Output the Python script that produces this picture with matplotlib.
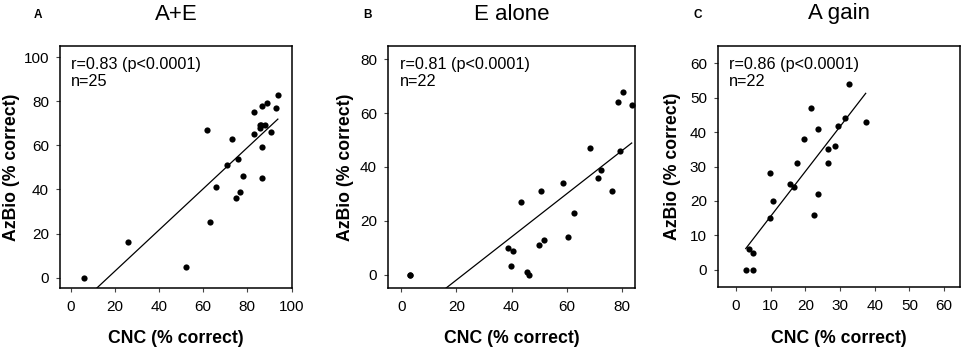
import numpy as np
import matplotlib
matplotlib.use('Agg')
from matplotlib import pyplot as plt

plt.rcParams['font.family'] = ['Liberation Sans', 'DejaVu Sans']

# =================== Datos (CNC, AzBio) por panel
ae_cnc = [6.2, 26.1, 52, 61.8, 62.9, 65.9, 70.9, 72.9, 75, 75.9, 76.8, 77.8, 82.8, 82.8,
          86.7, 85.8, 85.8, 86.2, 87.9, 86.7, 86.7, 88.8, 90.9, 92.8, 93.8]
ae_azbio = [0, 16.1, 5, 67, 25, 40.9, 51, 63, 36, 54, 39, 46, 75, 65,
            78, 69, 68, 69, 69, 59, 45, 79, 66, 77, 83]

e_cnc = [3.0, 3.0, 38.8, 39.8, 40.7, 43.6, 45.6, 46.5, 49.8, 50.7, 51.8, 58.7, 60.6, 62.7,
         68.6, 71.5, 72.6, 76.6, 78.5, 79.5, 80.5, 83.6]
e_azbio = [0, 0, 9.9, 3, 8.9, 27, 1, 0, 10.9, 31, 13, 33.9, 13.9, 23,
           47, 36, 39, 31, 64, 46, 68, 63]

a_cnc = [2.8, 4.8, 3.6, 4.8, 9.7, 9.7, 10.7, 15.7, 16.7, 17.7, 19.6, 21.7, 22.6, 23.6,
         23.6, 26.6, 26.6, 28.6, 29.5, 31.4, 32.5, 37.4]
a_azbio = [0, 0, 5.9, 5, 15, 28, 20, 25, 24, 31, 38, 47, 15.9, 21.9,
           41, 35, 31, 35.9, 41.9, 44, 54, 43]

titulos = ['A+E', 'E alone', 'A gain']
letras = ['A', 'B', 'C']
textos = ['r=0.83 (p<0.0001)\nn=25', 'r=0.81 (p<0.0001)\nn=22', 'r=0.86 (p<0.0001)\nn=22']
xlims = [(-4.8, 100.2), (-4.8, 84.8), (-5.2, 64.6)]
ylims = [(-4.7, 105), (-5, 85), (-5, 65)]
xticks = [range(0, 101, 20), range(0, 81, 20), range(0, 61, 10)]
yticks = [range(0, 101, 20), range(0, 81, 20), range(0, 61, 10)]

# posiciones de los ejes en pixeles (left, right, top, bottom)
cajas = [(60, 292, 46, 288), (388, 635, 46, 288), (718, 960, 46, 287)]
letra_x = [38, 368, 698]
ylabel_x = [20, 354, 681]   # borde derecho del ylabel en pixeles

W, H = 964, 351
fig = plt.figure(figsize=(W / 100, H / 100), dpi=100)

datos = [(ae_cnc, ae_azbio), (e_cnc, e_azbio), (a_cnc, a_azbio)]
for i in range(3):
    l, r, t, b = cajas[i]
    ax = fig.add_axes([l / W, 1 - b / H, (r - l) / W, (b - t) / H])
    x = np.array(datos[i][0])
    y = np.array(datos[i][1])
    ax.scatter(x, y, s=20, color='black', zorder=3, linewidths=0)
    m, c = np.polyfit(x, y, 1)
    xs = np.array([x.min(), x.max()])
    ax.plot(xs, m * xs + c, color='black', linewidth=0.9)
    ax.set_xlim(*xlims[i])
    ax.set_ylim(*ylims[i])
    ax.set_xticks(list(xticks[i]))
    ax.set_yticks(list(yticks[i]))
    ax.tick_params(labelsize=11, length=3, width=0.8, direction='out', color='#444444')
    ax.tick_params(axis='x', pad=5.5)
    ax.tick_params(axis='y', pad=5)
    for s in ax.spines.values():
        s.set_linewidth(1.1)
    ax.set_xlabel('CNC (% correct)', fontsize=12.7, fontweight='bold')
    ax.set_ylabel('AzBio (% correct)', fontsize=12.7, fontweight='bold')
    ax.xaxis.set_label_coords(0.5, -(330 - b) / (b - t))
    ax.yaxis.set_label_coords((ylabel_x[i] - l) / (r - l), 0.5)
    ax.text(0.047, 0.955, textos[i], transform=ax.transAxes, va='top', ha='left',
            fontsize=11.7, linespacing=1.2)
    fig.text((l + r) / 2 / W, 1 - 14 / H, titulos[i], ha='center', va='center', fontsize=16)
    fig.text(letra_x[i] / W, 1 - 15 / H, letras[i], ha='center', va='center',
             fontsize=8.5, fontweight='bold')

fig.savefig('out.png', dpi=100)
